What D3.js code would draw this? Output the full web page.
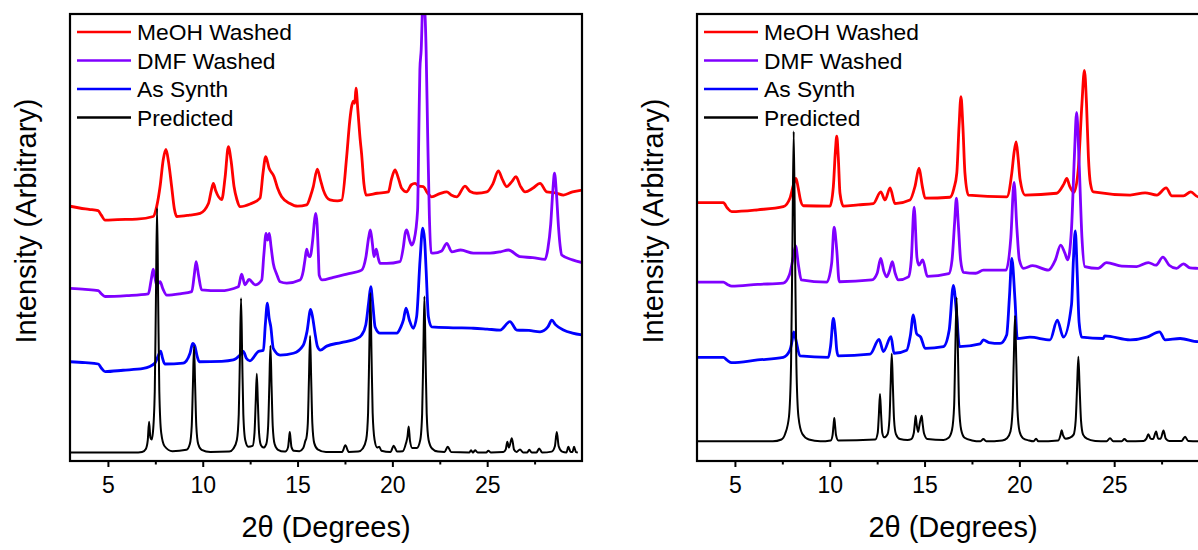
<!DOCTYPE html>
<html>
<head>
<meta charset="utf-8">
<script src="https://cdn.jsdelivr.net/npm/d3@7"></script>
<style>
  body { margin: 0; background: #fff; }
  svg { display: block; }
  text { font-family: Arial, "Liberation Sans", sans-serif; fill: #000; }
</style>
</head>
<body>
<svg id="chart" width="1198" height="550"></svg>
<script>
// Series names, colours and axis ticks
const seriesNames = ["MeOH Washed", "DMF Washed", "As Synth", "Predicted"];
const seriesColors = ["#ff0000", "#8000ff", "#0000ff", "#000000"];
const majorTicks = [5, 10, 15, 20, 25];
const minorTicks = [7.5, 12.5, 17.5, 22.5, 27.5];
const twoThetaRange = [3, 30];
const intensityRange = [0, 100];

// Left sample: [2θ, stacked intensity]
const leftMeOH = [[3.0,57.0],[3.5,56.6],[4.0,56.3],[4.48,56.0],[4.65,55.0],[4.85,53.9],[5.5,54.0],[6.52,54.1],[7.39,54.7],[7.57,56.9],[7.75,61.4],[7.92,67.5],[8.06,69.7],[8.2,66.8],[8.36,61.4],[8.5,56.5],[8.63,54.7],[9.3,55.0],[9.86,55.4],[10.3,57.6],[10.45,60.5],[10.56,62.1],[10.68,60.5],[11.0,58.5],[11.18,63.5],[11.35,70.3],[11.5,67.0],[11.65,61.4],[11.8,58.5],[11.97,56.9],[12.5,57.5],[13.02,58.8],[13.18,64.5],[13.32,68.1],[13.5,65.5],[13.76,63.6],[13.95,61.0],[14.16,59.1],[14.6,57.6],[15.0,57.0],[15.48,57.3],[15.7,59.5],[15.83,61.4],[16.04,65.3],[16.2,63.0],[16.36,60.6],[16.71,58.4],[17.1,58.2],[17.33,58.4],[17.59,68.1],[17.75,76.0],[17.86,79.5],[17.95,80.5],[18.02,80.0],[18.08,83.4],[18.18,78.5],[18.3,72.0],[18.38,68.6],[18.5,62.0],[18.61,59.5],[19.2,59.9],[19.79,60.2],[19.95,63.0],[20.14,65.1],[20.3,63.5],[20.49,61.0],[20.75,60.2],[21.0,61.8],[21.2,62.1],[21.4,61.5],[21.63,61.4],[21.85,60.0],[22.07,59.1],[22.5,59.8],[22.87,60.2],[23.1,59.5],[23.4,59.1],[23.83,61.5],[24.1,60.3],[24.45,59.9],[24.98,60.2],[25.3,62.0],[25.59,64.9],[25.8,63.0],[26.03,61.4],[26.3,62.5],[26.52,63.6],[26.75,61.5],[27.0,60.2],[27.4,61.0],[27.79,62.1],[28.14,60.2],[28.6,60.0],[29.02,59.5],[29.5,60.2],[30.0,60.6]];

const leftDMF = [[3.0,38.6],[3.8,38.4],[4.49,38.1],[4.65,37.4],[4.85,36.8],[6.0,37.0],[7.13,37.4],[7.28,40.5],[7.39,42.9],[7.48,41.0],[7.57,39.4],[7.75,40.1],[7.9,38.5],[8.1,37.1],[8.8,37.4],[9.42,37.9],[9.55,41.5],[9.65,44.6],[9.78,41.5],[9.94,38.3],[10.91,38.1],[11.88,39.0],[12.05,41.8],[12.23,39.4],[12.44,40.6],[12.76,39.4],[13.11,40.5],[13.22,46.0],[13.34,50.9],[13.42,49.4],[13.51,50.9],[13.6,48.0],[13.72,44.2],[13.9,41.8],[14.08,40.1],[14.43,39.8],[15.13,40.5],[15.3,42.5],[15.39,45.0],[15.48,47.4],[15.57,46.0],[15.66,45.7],[15.8,49.5],[15.9,54.0],[15.96,55.4],[16.03,53.0],[16.1,46.0],[16.14,41.6],[16.3,40.5],[16.89,41.1],[17.6,41.8],[18.38,42.7],[18.6,45.5],[18.75,50.0],[18.84,51.7],[18.95,48.5],[19.03,45.7],[19.15,47.4],[19.25,45.5],[19.35,44.2],[19.7,44.2],[20.4,44.6],[20.58,47.9],[20.68,51.0],[20.76,51.7],[20.9,49.5],[21.02,48.3],[21.15,49.5],[21.33,56.1],[21.4,75.0],[21.45,87.5],[21.52,92.0],[21.62,104.0],[21.72,100.0],[21.78,91.9],[21.86,73.4],[21.95,55.0],[22.04,46.6],[22.17,46.5],[22.6,47.0],[22.87,48.7],[23.13,46.8],[23.6,47.2],[24.27,46.5],[25.15,46.5],[25.7,46.8],[26.12,47.2],[26.73,45.7],[27.4,45.5],[28.05,45.1],[28.2,47.5],[28.35,53.0],[28.47,61.0],[28.55,64.4],[28.65,60.0],[28.76,52.4],[28.85,48.0],[28.93,46.1],[29.5,45.0],[30.0,44.4]];

const leftSynth = [[3.0,22.2],[3.8,22.0],[4.49,21.7],[4.65,20.8],[4.85,20.0],[5.8,20.3],[6.87,20.7],[7.48,21.9],[7.65,23.5],[7.78,24.6],[7.88,23.0],[8.0,21.7],[8.97,21.9],[9.33,24.1],[9.47,26.3],[9.59,25.6],[9.7,23.5],[9.82,22.2],[11.0,22.3],[11.61,22.6],[11.97,23.7],[12.14,24.5],[12.3,23.0],[12.49,22.4],[12.93,24.5],[13.2,24.8],[13.3,30.5],[13.41,35.3],[13.5,32.0],[13.59,30.0],[13.72,25.2],[14.08,23.7],[14.78,24.1],[15.3,25.9],[15.5,29.0],[15.69,33.9],[15.8,32.0],[15.92,28.6],[16.05,25.6],[16.2,24.8],[16.54,25.7],[17.3,26.5],[18.12,27.4],[18.38,28.2],[18.6,30.5],[18.75,35.5],[18.86,39.0],[18.97,35.0],[19.09,30.0],[19.35,28.6],[20.23,28.6],[20.45,30.0],[20.58,31.5],[20.72,34.2],[20.9,31.5],[21.1,29.7],[21.28,32.3],[21.46,45.0],[21.6,52.1],[21.7,49.5],[21.78,42.7],[21.9,32.3],[22.07,30.0],[23.2,29.8],[24.27,29.7],[25.0,29.5],[25.68,29.3],[26.2,31.2],[26.56,29.3],[27.2,29.2],[27.79,28.9],[28.2,30.0],[28.41,31.5],[28.6,30.5],[29.02,29.3],[29.5,28.6],[30.0,28.2]];

const leftPredicted = [[3.0,1.9],[6.6,1.9],[6.8,2.0],[7.0,2.7],[7.1,4.6],[7.17,8.8],[7.24,5.2],[7.3,4.8],[7.37,6.3],[7.47,15.6],[7.53,35.8],[7.59,56.6],[7.65,35.8],[7.71,15.6],[7.81,6.3],[7.99,3.3],[8.4,2.2],[9.14,2.5],[9.32,3.8],[9.42,7.9],[9.48,16.7],[9.54,25.7],[9.6,16.7],[9.66,7.9],[9.76,3.8],[9.94,2.5],[10.4,2.0],[11.4,2.1],[11.62,2.8],[11.8,4.7],[11.9,10.5],[11.96,23.3],[12.02,36.4],[12.08,23.3],[12.14,10.5],[12.24,4.7],[12.4,3.2],[12.63,3.4],[12.73,6.3],[12.79,12.8],[12.85,19.5],[12.91,12.8],[12.97,6.3],[13.07,3.5],[13.2,3.0],[13.35,3.8],[13.45,7.9],[13.51,16.7],[13.57,25.8],[13.63,16.7],[13.69,7.9],[13.79,3.8],[13.97,2.5],[14.3,2.1],[14.4,2.2],[14.5,3.1],[14.55,5.0],[14.59,6.5],[14.63,5.0],[14.68,3.1],[14.8,2.3],[15.1,2.2],[15.3,2.9],[15.42,4.6],[15.46,5.0],[15.54,8.4],[15.6,18.1],[15.66,28.0],[15.72,18.1],[15.78,8.4],[15.88,4.0],[16.06,2.6],[16.5,2.0],[17.35,2.0],[17.52,3.5],[17.7,2.0],[18.2,2.1],[18.44,2.8],[18.62,4.8],[18.72,10.8],[18.78,24.0],[18.84,37.6],[18.9,24.0],[18.96,10.8],[19.06,4.8],[19.2,3.0],[19.31,3.2],[19.42,2.3],[19.9,2.0],[20.07,3.4],[20.25,2.1],[20.55,2.2],[20.72,4.0],[20.8,5.5],[20.86,7.7],[20.93,4.5],[21.05,2.9],[21.29,2.9],[21.47,4.7],[21.57,10.6],[21.63,23.5],[21.69,36.8],[21.75,23.5],[21.81,10.6],[21.91,4.7],[22.09,2.8],[22.4,2.1],[22.75,2.0],[22.92,3.2],[23.1,2.0],[24.05,1.9],[24.15,2.4],[24.25,1.9],[24.36,2.4],[24.5,1.9],[24.95,1.9],[25.06,2.3],[25.2,1.9],[25.85,2.0],[25.98,2.6],[26.06,4.3],[26.15,3.0],[26.3,5.1],[26.42,2.5],[26.55,2.0],[26.73,2.6],[26.9,1.9],[27.1,1.9],[27.22,2.5],[27.35,1.9],[27.6,1.9],[27.74,2.8],[27.9,1.9],[28.4,2.1],[28.57,3.3],[28.67,6.5],[28.77,3.3],[28.95,2.1],[29.18,1.9],[29.28,3.2],[29.4,2.0],[29.5,2.0],[29.58,3.2],[29.68,2.0],[29.78,1.9]];

// Right sample: [2θ, stacked intensity]
const rightMeOH = [[3.0,57.8],[3.7,57.8],[4.39,57.8],[4.6,56.6],[4.83,55.8],[6.2,56.2],[7.55,56.9],[7.9,58.8],[8.1,62.0],[8.22,63.2],[8.34,61.0],[8.45,58.5],[8.61,57.1],[10.01,57.0],[10.19,61.4],[10.3,69.5],[10.37,72.7],[10.45,68.0],[10.54,59.9],[10.72,57.0],[11.5,57.3],[12.3,57.6],[12.69,60.2],[12.92,58.4],[13.18,61.1],[13.44,57.6],[14.23,58.4],[14.5,61.5],[14.71,65.5],[14.88,61.5],[15.03,58.8],[16.34,59.0],[16.55,61.0],[16.7,64.4],[16.82,75.0],[16.92,81.5],[17.02,75.0],[17.13,64.4],[17.31,59.5],[19.34,59.1],[19.6,64.4],[19.72,69.0],[19.83,71.4],[19.93,68.0],[20.04,62.9],[20.3,59.5],[21.97,59.9],[22.35,62.0],[22.5,63.2],[22.65,61.5],[22.88,60.1],[23.1,65.0],[23.3,80.0],[23.43,87.4],[23.54,80.0],[23.64,68.1],[23.75,62.0],[23.9,60.2],[25.84,59.5],[26.63,60.0],[27.25,59.5],[27.74,61.1],[28.04,59.3],[28.65,59.3],[29.04,60.2],[29.42,59.1],[30.0,59.1]];

const rightDMF = [[3.0,40.0],[3.7,40.0],[4.39,40.0],[4.6,39.5],[4.83,39.1],[6.2,39.5],[7.55,39.8],[7.87,41.6],[8.05,45.0],[8.2,48.1],[8.35,43.8],[8.5,40.5],[9.84,40.0],[10.1,44.2],[10.23,52.3],[10.37,47.2],[10.5,40.1],[12.22,40.5],[12.5,42.0],[12.69,45.3],[12.85,42.5],[13.0,41.2],[13.15,42.5],[13.3,44.6],[13.45,42.0],[13.62,40.5],[14.15,41.2],[14.3,45.0],[14.45,56.8],[14.6,45.5],[14.7,43.8],[14.9,45.0],[15.15,41.3],[16.28,41.9],[16.45,45.0],[16.58,53.0],[16.68,58.8],[16.78,53.0],[16.9,45.0],[17.05,42.2],[17.7,42.0],[18.1,42.7],[19.3,42.7],[19.55,50.0],[19.72,62.3],[19.87,52.0],[20.0,45.0],[20.22,43.1],[20.7,43.7],[21.53,42.7],[21.9,45.0],[22.18,48.3],[22.4,46.5],[22.55,45.0],[22.75,52.0],[22.9,68.0],[23.02,78.0],[23.14,68.0],[23.3,50.0],[23.45,43.5],[24.15,43.1],[24.6,44.4],[25.4,43.6],[26.18,43.5],[26.8,44.4],[27.2,43.8],[27.57,45.6],[27.9,43.8],[28.29,43.1],[28.65,44.1],[29.0,43.2],[29.42,43.1],[30.0,43.0]];

const rightSynth = [[3.0,23.2],[3.7,23.2],[4.39,23.2],[4.6,22.5],[4.83,22.0],[6.2,22.6],[7.55,23.2],[7.9,24.8],[8.0,26.5],[8.1,28.9],[8.22,27.0],[8.43,23.5],[9.93,23.2],[10.05,25.9],[10.19,31.9],[10.3,28.5],[10.37,24.8],[10.45,23.5],[12.13,23.9],[12.6,27.2],[12.83,24.5],[13.23,27.8],[13.39,24.1],[14.06,24.8],[14.25,28.0],[14.41,32.7],[14.58,28.5],[14.8,27.7],[15.03,25.2],[16.0,25.6],[16.3,29.3],[16.52,39.3],[16.7,32.3],[16.84,25.6],[17.93,26.2],[18.1,27.1],[18.4,26.5],[18.98,26.3],[19.33,28.2],[19.48,37.0],[19.6,45.3],[19.77,36.0],[19.89,27.4],[20.56,27.7],[21.62,27.1],[22.0,31.5],[22.32,27.7],[22.75,35.0],[22.85,45.0],[22.95,51.5],[23.05,42.0],[23.15,31.0],[23.29,27.7],[24.43,27.4],[24.5,28.0],[25.84,27.1],[26.72,27.7],[27.39,28.9],[27.69,27.1],[28.48,27.4],[29.42,26.7],[30.0,26.7]];

const rightPredicted = [[3.0,4.4],[7.0,4.4],[7.45,4.8],[7.65,6.1],[7.85,9.9],[7.96,21.7],[8.03,47.4],[8.1,73.7],[8.17,47.4],[8.24,21.7],[8.35,9.9],[8.55,6.1],[8.9,4.8],[9.5,4.4],[10.05,4.6],[10.15,5.8],[10.2,8.0],[10.24,9.6],[10.28,8.0],[10.33,5.8],[10.45,4.6],[12.4,4.8],[12.53,6.3],[12.59,10.3],[12.65,15.0],[12.71,10.3],[12.77,6.3],[12.87,5.3],[13.05,6.0],[13.15,9.4],[13.21,16.8],[13.27,24.0],[13.33,16.8],[13.39,9.4],[13.49,6.0],[13.7,4.9],[14.1,4.7],[14.3,4.9],[14.43,6.2],[14.49,8.5],[14.53,10.1],[14.58,8.3],[14.66,6.5],[14.75,8.5],[14.85,10.1],[14.9,8.3],[14.97,6.2],[15.15,4.9],[16.0,4.7],[16.27,5.2],[16.45,7.0],[16.56,12.4],[16.62,24.4],[16.69,36.6],[16.76,24.4],[16.82,12.4],[16.93,7.0],[17.11,5.2],[17.5,4.6],[17.95,4.4],[18.1,4.9],[18.25,4.4],[19.1,4.6],[19.35,5.1],[19.53,6.6],[19.64,11.4],[19.7,21.8],[19.77,32.5],[19.84,21.8],[19.9,11.4],[20.01,6.6],[20.19,5.1],[20.5,4.6],[20.75,4.4],[20.88,5.0],[21.0,4.4],[22.05,4.6],[22.17,5.8],[22.23,6.9],[22.3,5.8],[22.45,5.0],[22.66,5.2],[22.86,5.9],[22.97,9.1],[23.04,16.1],[23.11,23.3],[23.18,16.1],[23.25,9.1],[23.36,5.9],[23.56,5.0],[24.0,4.5],[24.6,4.4],[24.78,5.1],[24.95,4.4],[25.4,4.4],[25.54,4.9],[25.7,4.4],[26.55,4.5],[26.7,5.0],[26.8,6.0],[26.92,5.0],[27.05,4.9],[27.21,6.6],[27.32,5.0],[27.45,5.0],[27.6,6.8],[27.72,5.0],[27.9,4.5],[28.55,4.5],[28.74,5.4],[28.9,4.5],[29.42,4.4],[30.0,4.4]];

const panels = [
  { left: 70, right: 582, series: [leftMeOH, leftDMF, leftSynth, leftPredicted] },
  { left: 697, right: 1209, series: [rightMeOH, rightDMF, rightSynth, rightPredicted] }
];
const plotTop = 14, plotBottom = 461;

const svg = d3.select("#chart");

panels.forEach((p, pi) => {
  const x = d3.scaleLinear().domain(twoThetaRange).range([p.left, p.right]);
  const y = d3.scaleLinear().domain(intensityRange).range([plotBottom, plotTop]);
  const g = svg.append("g");

  const clipId = "plot-clip-" + pi;
  g.append("clipPath").attr("id", clipId)
    .append("rect")
    .attr("x", p.left).attr("y", plotTop)
    .attr("width", p.right - p.left).attr("height", plotBottom - plotTop);

  const line = d3.line()
    .x(d => x(d[0]))
    .y(d => y(d[1]))
    .curve(d3.curveMonotoneX);

  const traces = g.append("g").attr("clip-path", `url(#${clipId})`);
  p.series.forEach((data, i) => {
    traces.append("path")
      .datum(data)
      .attr("fill", "none")
      .attr("stroke", seriesColors[i])
      .attr("stroke-width", i === 3 ? 2 : 2.8)
      .attr("stroke-linejoin", "round")
      .attr("d", line);
  });

  // bottom axis: labelled major ticks and short minor ticks
  const axisMajor = d3.axisBottom(x).tickValues(majorTicks).tickSize(6).tickPadding(10)
    .tickFormat(d3.format("d"));
  const axisMinor = d3.axisBottom(x).tickValues(minorTicks).tickSize(3.5).tickFormat("");

  const gMajor = g.append("g").attr("transform", `translate(0,${plotBottom})`).call(axisMajor);
  const gMinor = g.append("g").attr("transform", `translate(0,${plotBottom})`).call(axisMinor);
  [gMajor, gMinor].forEach(a => {
    a.select(".domain").remove();
    a.selectAll(".tick line").attr("stroke", "#000").attr("stroke-width", 2);
  });
  gMajor.selectAll(".tick text")
    .attr("font-size", 23)
    .attr("font-family", "Arial, 'Liberation Sans', sans-serif")
    .attr("fill", "#000");

  // frame
  g.append("rect")
    .attr("x", p.left).attr("y", plotTop)
    .attr("width", p.right - p.left).attr("height", plotBottom - plotTop)
    .attr("fill", "none").attr("stroke", "#000").attr("stroke-width", 2.2);

  // legend
  const legend = g.append("g");
  seriesNames.forEach((name, i) => {
    const ly = 32 + i * 28.5;
    legend.append("line")
      .attr("x1", p.left + 7).attr("x2", p.left + 61)
      .attr("y1", ly).attr("y2", ly)
      .attr("stroke", seriesColors[i]).attr("stroke-width", 2.6);
    legend.append("text")
      .attr("x", p.left + 67).attr("y", ly + 8)
      .attr("font-size", 22.8)
      .text(name);
  });

  // axis titles
  g.append("text")
    .attr("x", (p.left + p.right) / 2).attr("y", 537)
    .attr("text-anchor", "middle")
    .attr("font-size", 29)
    .text("2θ (Degrees)");

  g.append("text")
    .attr("transform", `translate(${p.left - 34},${221}) rotate(-90)`)
    .attr("text-anchor", "middle")
    .attr("font-size", 29)
    .text("Intensity (Arbitrary)");
});
</script>
</body>
</html>
